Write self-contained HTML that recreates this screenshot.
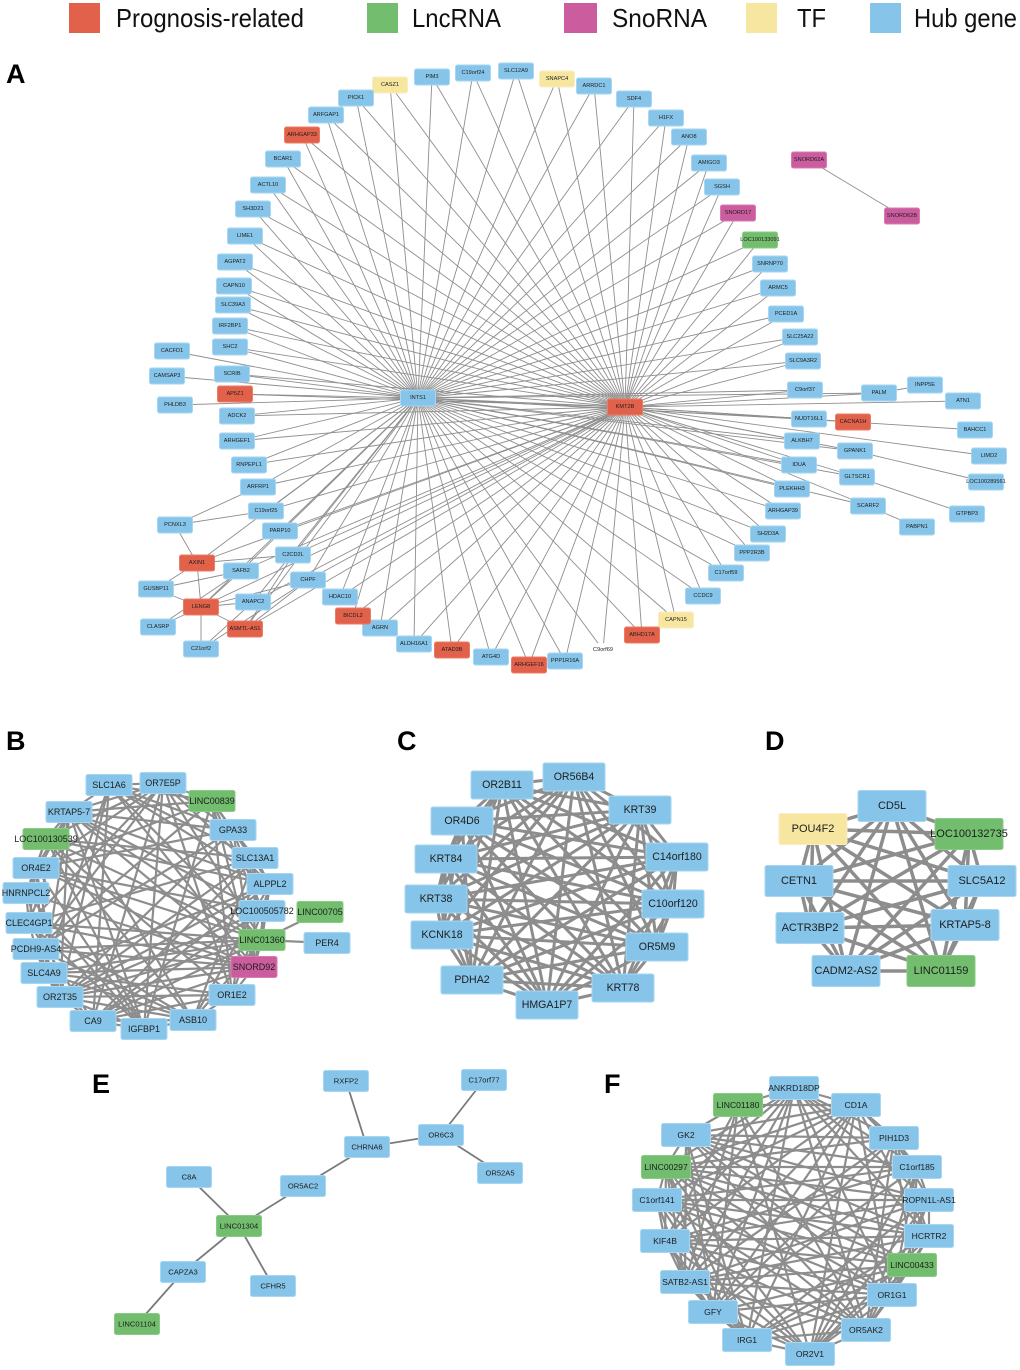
<!DOCTYPE html>
<html><head><meta charset="utf-8">
<style>
html,body{margin:0;padding:0;background:#fff;}
svg{display:block;font-family:"Liberation Sans",Arial,sans-serif;}
text{text-anchor:middle;dominant-baseline:central;fill:#1d1d1d;}
.b{fill:#86C5E9;stroke:#A6D6F1;stroke-width:1}
.r{fill:#E2614A;stroke:#EC7C64;stroke-width:1}
.g{fill:#72BE6E;stroke:#88CB84;stroke-width:1}
.p{fill:#CB5D9F;stroke:#D77BB3;stroke-width:1}
.y{fill:#F6E6A0;stroke:#F9EEC0;stroke-width:1}
.w{fill:#fff;stroke:none}
#A text{font-size:5.6px}
#B text{font-size:9px}
#C text{font-size:10.6px}
#D text{font-size:11px}
#E text{font-size:7.6px}
#F text{font-size:8.6px}
#A .E{stroke:#8e8e8e;stroke-width:0.9}
#B .E{stroke:#8d8d8d;stroke-width:2.2}
#C .E{stroke:#8d8d8d;stroke-width:3}
#D .E{stroke:#8d8d8d;stroke-width:3.5}
#E .E{stroke:#7a7a7a;stroke-width:1.8}
#F .E{stroke:#8d8d8d;stroke-width:2.2}
.lg text{text-anchor:start;dominant-baseline:auto;font-size:26px;fill:#111}
.pl{text-anchor:start !important;dominant-baseline:auto !important;font-weight:bold;font-size:27px;fill:#000 !important}
</style></head>
<body>
<svg width="1020" height="1370" viewBox="0 0 1020 1370" xmlns="http://www.w3.org/2000/svg">
<rect x="0" y="0" width="1020" height="1370" fill="#fff"/>
<!-- legend -->
<g class="lg">
<rect x="69" y="3" width="31" height="30" fill="#E2614A"/>
<text x="116" y="27" textLength="188" lengthAdjust="spacingAndGlyphs">Prognosis-related</text>
<rect x="367" y="3" width="31" height="30" fill="#72BE6E"/>
<text x="412" y="27" textLength="89" lengthAdjust="spacingAndGlyphs">LncRNA</text>
<rect x="564" y="3" width="33" height="30" fill="#CB5D9F"/>
<text x="612" y="27" textLength="95" lengthAdjust="spacingAndGlyphs">SnoRNA</text>
<rect x="746" y="3" width="31" height="30" fill="#F6E6A0"/>
<text x="797" y="27" textLength="29" lengthAdjust="spacingAndGlyphs">TF</text>
<rect x="870" y="3" width="31" height="30" fill="#86C5E9"/>
<text x="914" y="27" textLength="103" lengthAdjust="spacingAndGlyphs">Hub gene</text>
</g>
<text class="pl" x="6" y="83">A</text>
<text class="pl" x="6" y="750">B</text>
<text class="pl" x="397" y="750">C</text>
<text class="pl" x="765" y="750">D</text>
<text class="pl" x="92" y="1093">E</text>
<text class="pl" x="604" y="1093">F</text>

<!-- Panel A -->
<g id="A">
<g class="E"></g>
<g class="rg" transform="translate(390 85)"><rect class="y" x="-17.5" y="-8" width="35" height="16" rx="2"/><text>CASZ1</text></g>
<g class="rg" transform="translate(432 77)"><rect class="b" x="-17.5" y="-8" width="35" height="16" rx="2"/><text>PIM3</text></g>
<g class="rg" transform="translate(473 73)"><rect class="b" x="-17.5" y="-8" width="35" height="16" rx="2"/><text>C19orf24</text></g>
<g class="rg" transform="translate(516 71)"><rect class="b" x="-17.5" y="-8" width="35" height="16" rx="2"/><text>SLC12A9</text></g>
<g class="rg" transform="translate(557 79)"><rect class="y" x="-17.5" y="-8" width="35" height="16" rx="2"/><text>SNAPC4</text></g>
<g class="rg" transform="translate(594 86)"><rect class="b" x="-17.5" y="-8" width="35" height="16" rx="2"/><text>ARRDC1</text></g>
<g class="rg" transform="translate(634 99)"><rect class="b" x="-17.5" y="-8" width="35" height="16" rx="2"/><text>SDF4</text></g>
<g class="rg" transform="translate(666 118)"><rect class="b" x="-17.5" y="-8" width="35" height="16" rx="2"/><text>H1FX</text></g>
<g class="rg" transform="translate(689 137)"><rect class="b" x="-17.5" y="-8" width="35" height="16" rx="2"/><text>ANO8</text></g>
<g class="rg" transform="translate(709 163)"><rect class="b" x="-17.5" y="-8" width="35" height="16" rx="2"/><text>AMIGO3</text></g>
<g class="rg" transform="translate(722 187)"><rect class="b" x="-17.5" y="-8" width="35" height="16" rx="2"/><text>SGSH</text></g>
<g class="rg" transform="translate(738 213)"><rect class="p" x="-17.5" y="-8" width="35" height="16" rx="2"/><text>SNORD17</text></g>
<g class="rg" transform="translate(760 240)"><rect class="g" x="-17.5" y="-8" width="35" height="16" rx="2"/><text>LOC100133091</text></g>
<g class="rg" transform="translate(770 264)"><rect class="b" x="-17.5" y="-8" width="35" height="16" rx="2"/><text>SNRNP70</text></g>
<g class="rg" transform="translate(778 288)"><rect class="b" x="-17.5" y="-8" width="35" height="16" rx="2"/><text>ARMC5</text></g>
<g class="rg" transform="translate(786 314)"><rect class="b" x="-17.5" y="-8" width="35" height="16" rx="2"/><text>PCED1A</text></g>
<g class="rg" transform="translate(800 337)"><rect class="b" x="-17.5" y="-8" width="35" height="16" rx="2"/><text>SLC25A22</text></g>
<g class="rg" transform="translate(803 361)"><rect class="b" x="-17.5" y="-8" width="35" height="16" rx="2"/><text>SLC9A3R2</text></g>
<g class="rg" transform="translate(805 390)"><rect class="b" x="-17.5" y="-8" width="35" height="16" rx="2"/><text>C9orf37</text></g>
<g class="rg" transform="translate(809 419)"><rect class="b" x="-17.5" y="-8" width="35" height="16" rx="2"/><text>NUDT16L1</text></g>
<g class="rg" transform="translate(802 441)"><rect class="b" x="-17.5" y="-8" width="35" height="16" rx="2"/><text>ALKBH7</text></g>
<g class="rg" transform="translate(799 465)"><rect class="b" x="-17.5" y="-8" width="35" height="16" rx="2"/><text>IDUA</text></g>
<g class="rg" transform="translate(792 489)"><rect class="b" x="-17.5" y="-8" width="35" height="16" rx="2"/><text>PLEKHH3</text></g>
<g class="rg" transform="translate(783 511)"><rect class="b" x="-17.5" y="-8" width="35" height="16" rx="2"/><text>ARHGAP39</text></g>
<g class="rg" transform="translate(768 534)"><rect class="b" x="-17.5" y="-8" width="35" height="16" rx="2"/><text>SH2D3A</text></g>
<g class="rg" transform="translate(752 553)"><rect class="b" x="-17.5" y="-8" width="35" height="16" rx="2"/><text>PPP2R3B</text></g>
<g class="rg" transform="translate(726 573)"><rect class="b" x="-17.5" y="-8" width="35" height="16" rx="2"/><text>C17orf59</text></g>
<g class="rg" transform="translate(703 596)"><rect class="b" x="-17.5" y="-8" width="35" height="16" rx="2"/><text>CCDC9</text></g>
<g class="rg" transform="translate(676 620)"><rect class="y" x="-17.5" y="-8" width="35" height="16" rx="2"/><text>CAPN15</text></g>
<g class="rg" transform="translate(642 635)"><rect class="r" x="-17.5" y="-8" width="35" height="16" rx="2"/><text>ABHD17A</text></g>
<g class="rg" transform="translate(603 650)"><rect class="w" x="-17.5" y="-7" width="35" height="14" rx="2"/><text>C9orf69</text></g>
<g class="rg" transform="translate(565 661)"><rect class="b" x="-17.5" y="-8" width="35" height="16" rx="2"/><text>PPP1R16A</text></g>
<g class="rg" transform="translate(529 665)"><rect class="r" x="-17.5" y="-8" width="35" height="16" rx="2"/><text>ARHGEF16</text></g>
<g class="rg" transform="translate(491 657)"><rect class="b" x="-17.5" y="-8" width="35" height="16" rx="2"/><text>ATG4D</text></g>
<g class="rg" transform="translate(452 650)"><rect class="r" x="-17.5" y="-8" width="35" height="16" rx="2"/><text>ATAD3B</text></g>
<g class="rg" transform="translate(414 644)"><rect class="b" x="-17.5" y="-8" width="35" height="16" rx="2"/><text>ALDH16A1</text></g>
<g class="rg" transform="translate(380 628)"><rect class="b" x="-17.5" y="-8" width="35" height="16" rx="2"/><text>AGRN</text></g>
<g class="rg" transform="translate(353 616)"><rect class="r" x="-17.5" y="-8" width="35" height="16" rx="2"/><text>BICDL2</text></g>
<g class="rg" transform="translate(340 597)"><rect class="b" x="-17.5" y="-8" width="35" height="16" rx="2"/><text>HDAC10</text></g>
<g class="rg" transform="translate(308 580)"><rect class="b" x="-17.5" y="-8" width="35" height="16" rx="2"/><text>CHPF</text></g>
<g class="rg" transform="translate(293 555)"><rect class="b" x="-17.5" y="-8" width="35" height="16" rx="2"/><text>C2CD2L</text></g>
<g class="rg" transform="translate(280 531)"><rect class="b" x="-17.5" y="-8" width="35" height="16" rx="2"/><text>PARP10</text></g>
<g class="rg" transform="translate(266 511)"><rect class="b" x="-17.5" y="-8" width="35" height="16" rx="2"/><text>C19orf25</text></g>
<g class="rg" transform="translate(258 487)"><rect class="b" x="-17.5" y="-8" width="35" height="16" rx="2"/><text>ARFRP1</text></g>
<g class="rg" transform="translate(249 465)"><rect class="b" x="-17.5" y="-8" width="35" height="16" rx="2"/><text>RNPEPL1</text></g>
<g class="rg" transform="translate(237 441)"><rect class="b" x="-17.5" y="-8" width="35" height="16" rx="2"/><text>ARHGEF1</text></g>
<g class="rg" transform="translate(237 416)"><rect class="b" x="-17.5" y="-8" width="35" height="16" rx="2"/><text>ADCK2</text></g>
<g class="rg" transform="translate(235 394)"><rect class="r" x="-17.5" y="-8" width="35" height="16" rx="2"/><text>AP5Z1</text></g>
<g class="rg" transform="translate(232 374)"><rect class="b" x="-17.5" y="-8" width="35" height="16" rx="2"/><text>SCRIB</text></g>
<g class="rg" transform="translate(230 347)"><rect class="b" x="-17.5" y="-8" width="35" height="16" rx="2"/><text>SHC2</text></g>
<g class="rg" transform="translate(230 326)"><rect class="b" x="-17.5" y="-8" width="35" height="16" rx="2"/><text>IRF2BP1</text></g>
<g class="rg" transform="translate(233 305)"><rect class="b" x="-17.5" y="-8" width="35" height="16" rx="2"/><text>SLC39A3</text></g>
<g class="rg" transform="translate(234 286)"><rect class="b" x="-17.5" y="-8" width="35" height="16" rx="2"/><text>CAPN10</text></g>
<g class="rg" transform="translate(235 262)"><rect class="b" x="-17.5" y="-8" width="35" height="16" rx="2"/><text>AGPAT2</text></g>
<g class="rg" transform="translate(245 236)"><rect class="b" x="-17.5" y="-8" width="35" height="16" rx="2"/><text>LIME1</text></g>
<g class="rg" transform="translate(253 209)"><rect class="b" x="-17.5" y="-8" width="35" height="16" rx="2"/><text>SH3D21</text></g>
<g class="rg" transform="translate(268 185)"><rect class="b" x="-17.5" y="-8" width="35" height="16" rx="2"/><text>ACTL10</text></g>
<g class="rg" transform="translate(283 159)"><rect class="b" x="-17.5" y="-8" width="35" height="16" rx="2"/><text>BCAR1</text></g>
<g class="rg" transform="translate(302 135)"><rect class="r" x="-17.5" y="-8" width="35" height="16" rx="2"/><text>ARHGAP33</text></g>
<g class="rg" transform="translate(326 115)"><rect class="b" x="-17.5" y="-8" width="35" height="16" rx="2"/><text>ARFGAP1</text></g>
<g class="rg" transform="translate(356 98)"><rect class="b" x="-17.5" y="-8" width="35" height="16" rx="2"/><text>PICK1</text></g>
<g class="rg" transform="translate(241 571)"><rect class="b" x="-17.5" y="-8" width="35" height="16" rx="2"/><text>SAFB2</text></g>
<g class="rg" transform="translate(253 602)"><rect class="b" x="-17.5" y="-8" width="35" height="16" rx="2"/><text>ANAPC2</text></g>
<g class="rg" transform="translate(197 563)"><rect class="r" x="-17.5" y="-8" width="35" height="16" rx="2"/><text>AXIN1</text></g>
<g class="rg" transform="translate(201 607)"><rect class="r" x="-17.5" y="-8" width="35" height="16" rx="2"/><text>LENG8</text></g>
<g class="rg" transform="translate(245 629)"><rect class="r" x="-17.5" y="-8" width="35" height="16" rx="2"/><text>ASMTL-AS1</text></g>
<g class="rg" transform="translate(879 393)"><rect class="b" x="-17.5" y="-8" width="35" height="16" rx="2"/><text>PALM</text></g>
<g class="rg" transform="translate(853 422)"><rect class="r" x="-17.5" y="-8" width="35" height="16" rx="2"/><text>CACNA1H</text></g>
<g class="rg" transform="translate(855 451)"><rect class="b" x="-17.5" y="-8" width="35" height="16" rx="2"/><text>GPANK1</text></g>
<g class="rg" transform="translate(857 477)"><rect class="b" x="-17.5" y="-8" width="35" height="16" rx="2"/><text>GLTSCR1</text></g>
<g class="rg" transform="translate(868 506)"><rect class="b" x="-17.5" y="-8" width="35" height="16" rx="2"/><text>SCARF2</text></g>
<g transform="translate(925 385)"><rect class="b" x="-17.5" y="-8" width="35" height="16" rx="2"/><text>INPP5E</text></g>
<g transform="translate(963 401)"><rect class="b" x="-17.5" y="-8" width="35" height="16" rx="2"/><text>ATN1</text></g>
<g transform="translate(975 430)"><rect class="b" x="-17.5" y="-8" width="35" height="16" rx="2"/><text>BAHCC1</text></g>
<g transform="translate(989 456)"><rect class="b" x="-17.5" y="-8" width="35" height="16" rx="2"/><text>LIMD2</text></g>
<g transform="translate(986 482)"><rect class="b" x="-17.5" y="-8" width="35" height="16" rx="2"/><text>LOC100289561</text></g>
<g transform="translate(967 514)"><rect class="b" x="-17.5" y="-8" width="35" height="16" rx="2"/><text>GTPBP3</text></g>
<g transform="translate(917 527)"><rect class="b" x="-17.5" y="-8" width="35" height="16" rx="2"/><text>PABPN1</text></g>
<g transform="translate(172 351)"><rect class="b" x="-17.5" y="-8" width="35" height="16" rx="2"/><text>CACFD1</text></g>
<g transform="translate(167 376)"><rect class="b" x="-17.5" y="-8" width="35" height="16" rx="2"/><text>CAMSAP3</text></g>
<g transform="translate(175 405)"><rect class="b" x="-17.5" y="-8" width="35" height="16" rx="2"/><text>PHLDB3</text></g>
<g transform="translate(175 525)"><rect class="b" x="-17.5" y="-8" width="35" height="16" rx="2"/><text>PCNXL3</text></g>
<g transform="translate(156 589)"><rect class="b" x="-17.5" y="-8" width="35" height="16" rx="2"/><text>GUSBP11</text></g>
<g transform="translate(158 627)"><rect class="b" x="-17.5" y="-8" width="35" height="16" rx="2"/><text>CLASRP</text></g>
<g transform="translate(201 649)"><rect class="b" x="-17.5" y="-8" width="35" height="16" rx="2"/><text>C21orf2</text></g>
<g transform="translate(809 160)"><rect class="p" x="-17.5" y="-8" width="35" height="16" rx="2"/><text>SNORD62A</text></g>
<g transform="translate(902 216)"><rect class="p" x="-17.5" y="-8" width="35" height="16" rx="2"/><text>SNORD62B</text></g>
<g transform="translate(418 398)"><rect class="b" x="-17.5" y="-8" width="35" height="16" rx="2"/><text>INTS1</text></g>
<g transform="translate(625 407)"><rect class="r" x="-17.5" y="-8" width="35" height="16" rx="2"/><text>KMT2B</text></g>
</g>

<!-- Panel B -->
<g id="B">
<g class="E"></g>
<g class="k" transform="translate(109 785)"><rect class="b" x="-23" y="-10.5" width="46" height="21" rx="2"/><text>SLC1A6</text></g>
<g class="k" transform="translate(163 783)"><rect class="b" x="-23" y="-10.5" width="46" height="21" rx="2"/><text>OR7E5P</text></g>
<g class="k" transform="translate(212 801)"><rect class="g" x="-23" y="-10.5" width="46" height="21" rx="2"/><text>LINC00839</text></g>
<g class="k" transform="translate(233 830)"><rect class="b" x="-23" y="-10.5" width="46" height="21" rx="2"/><text>GPA33</text></g>
<g class="k" transform="translate(255 858)"><rect class="b" x="-23" y="-10.5" width="46" height="21" rx="2"/><text>SLC13A1</text></g>
<g class="k" transform="translate(270 884)"><rect class="b" x="-23" y="-10.5" width="46" height="21" rx="2"/><text>ALPPL2</text></g>
<g class="k" transform="translate(262 911)"><rect class="b" x="-23" y="-10.5" width="46" height="21" rx="2"/><text>LOC100505782</text></g>
<g class="k" transform="translate(262 940)"><rect class="g" x="-23" y="-10.5" width="46" height="21" rx="2"/><text>LINC01360</text></g>
<g class="k" transform="translate(254 967)"><rect class="p" x="-23" y="-10.5" width="46" height="21" rx="2"/><text>SNORD92</text></g>
<g class="k" transform="translate(232 995)"><rect class="b" x="-23" y="-10.5" width="46" height="21" rx="2"/><text>OR1E2</text></g>
<g class="k" transform="translate(193 1020)"><rect class="b" x="-23" y="-10.5" width="46" height="21" rx="2"/><text>ASB10</text></g>
<g class="k" transform="translate(144 1029)"><rect class="b" x="-23" y="-10.5" width="46" height="21" rx="2"/><text>IGFBP1</text></g>
<g class="k" transform="translate(93 1021)"><rect class="b" x="-23" y="-10.5" width="46" height="21" rx="2"/><text>CA9</text></g>
<g class="k" transform="translate(60 997)"><rect class="b" x="-23" y="-10.5" width="46" height="21" rx="2"/><text>OR2T35</text></g>
<g class="k" transform="translate(44 973)"><rect class="b" x="-23" y="-10.5" width="46" height="21" rx="2"/><text>SLC4A9</text></g>
<g class="k" transform="translate(36 949)"><rect class="b" x="-23" y="-10.5" width="46" height="21" rx="2"/><text>PCDH9-AS4</text></g>
<g class="k" transform="translate(29 923)"><rect class="b" x="-23" y="-10.5" width="46" height="21" rx="2"/><text>CLEC4GP1</text></g>
<g class="k" transform="translate(26 893)"><rect class="b" x="-23" y="-10.5" width="46" height="21" rx="2"/><text>HNRNPCL2</text></g>
<g class="k" transform="translate(36 868)"><rect class="b" x="-23" y="-10.5" width="46" height="21" rx="2"/><text>OR4E2</text></g>
<g class="k" transform="translate(46 839)"><rect class="g" x="-23" y="-10.5" width="46" height="21" rx="2"/><text>LOC100130539</text></g>
<g class="k" transform="translate(69 812)"><rect class="b" x="-23" y="-10.5" width="46" height="21" rx="2"/><text>KRTAP5-7</text></g>
<g transform="translate(320 912)"><rect class="g" x="-23" y="-10.5" width="46" height="21" rx="2"/><text>LINC00705</text></g>
<g transform="translate(327 943)"><rect class="b" x="-23" y="-10.5" width="46" height="21" rx="2"/><text>PER4</text></g>
</g>

<!-- Panel C -->
<g id="C">
<g class="E"></g>
<g class="k" transform="translate(502 785)"><rect class="b" x="-31" y="-14" width="62" height="28" rx="2"/><text>OR2B11</text></g>
<g class="k" transform="translate(574 777)"><rect class="b" x="-31" y="-14" width="62" height="28" rx="2"/><text>OR56B4</text></g>
<g class="k" transform="translate(640 810)"><rect class="b" x="-31" y="-14" width="62" height="28" rx="2"/><text>KRT39</text></g>
<g class="k" transform="translate(677 857)"><rect class="b" x="-31" y="-14" width="62" height="28" rx="2"/><text>C14orf180</text></g>
<g class="k" transform="translate(673 904)"><rect class="b" x="-31" y="-14" width="62" height="28" rx="2"/><text>C10orf120</text></g>
<g class="k" transform="translate(657 947)"><rect class="b" x="-31" y="-14" width="62" height="28" rx="2"/><text>OR5M9</text></g>
<g class="k" transform="translate(623 988)"><rect class="b" x="-31" y="-14" width="62" height="28" rx="2"/><text>KRT78</text></g>
<g class="k" transform="translate(547 1005)"><rect class="b" x="-31" y="-14" width="62" height="28" rx="2"/><text>HMGA1P7</text></g>
<g class="k" transform="translate(472 980)"><rect class="b" x="-31" y="-14" width="62" height="28" rx="2"/><text>PDHA2</text></g>
<g class="k" transform="translate(442 935)"><rect class="b" x="-31" y="-14" width="62" height="28" rx="2"/><text>KCNK18</text></g>
<g class="k" transform="translate(436 899)"><rect class="b" x="-31" y="-14" width="62" height="28" rx="2"/><text>KRT38</text></g>
<g class="k" transform="translate(446 859)"><rect class="b" x="-31" y="-14" width="62" height="28" rx="2"/><text>KRT84</text></g>
<g class="k" transform="translate(462 821)"><rect class="b" x="-31" y="-14" width="62" height="28" rx="2"/><text>OR4D6</text></g>
</g>

<!-- Panel D -->
<g id="D">
<g class="E"></g>
<g class="k" transform="translate(892 806)"><rect class="b" x="-34" y="-15.5" width="68" height="31" rx="2"/><text>CD5L</text></g>
<g class="k" transform="translate(969 834)"><rect class="g" x="-34" y="-15.5" width="68" height="31" rx="2"/><text>LOC100132735</text></g>
<g class="k" transform="translate(982 881)"><rect class="b" x="-34" y="-15.5" width="68" height="31" rx="2"/><text>SLC5A12</text></g>
<g class="k" transform="translate(965 925)"><rect class="b" x="-34" y="-15.5" width="68" height="31" rx="2"/><text>KRTAP5-8</text></g>
<g class="k" transform="translate(941 971)"><rect class="g" x="-34" y="-15.5" width="68" height="31" rx="2"/><text>LINC01159</text></g>
<g class="k" transform="translate(846 971)"><rect class="b" x="-34" y="-15.5" width="68" height="31" rx="2"/><text>CADM2-AS2</text></g>
<g class="k" transform="translate(810 928)"><rect class="b" x="-34" y="-15.5" width="68" height="31" rx="2"/><text>ACTR3BP2</text></g>
<g class="k" transform="translate(799 881)"><rect class="b" x="-34" y="-15.5" width="68" height="31" rx="2"/><text>CETN1</text></g>
<g class="k" transform="translate(813 829)"><rect class="y" x="-34" y="-15.5" width="68" height="31" rx="2"/><text>POU4F2</text></g>
</g>

<!-- Panel E -->
<g id="E">
<g class="E"></g>
<g transform="translate(346 1081)"><rect class="b" x="-22.5" y="-10.5" width="45" height="21" rx="2"/><text>RXFP2</text></g>
<g transform="translate(484 1080)"><rect class="b" x="-22.5" y="-10.5" width="45" height="21" rx="2"/><text>C17orf77</text></g>
<g transform="translate(441 1135)"><rect class="b" x="-22.5" y="-10.5" width="45" height="21" rx="2"/><text>OR6C3</text></g>
<g transform="translate(367 1147)"><rect class="b" x="-22.5" y="-10.5" width="45" height="21" rx="2"/><text>CHRNA6</text></g>
<g transform="translate(500 1173)"><rect class="b" x="-22.5" y="-10.5" width="45" height="21" rx="2"/><text>OR52A5</text></g>
<g transform="translate(189 1177)"><rect class="b" x="-22.5" y="-10.5" width="45" height="21" rx="2"/><text>C8A</text></g>
<g transform="translate(303 1186)"><rect class="b" x="-22.5" y="-10.5" width="45" height="21" rx="2"/><text>OR5AC2</text></g>
<g transform="translate(239 1226)"><rect class="g" x="-22.5" y="-10.5" width="45" height="21" rx="2"/><text>LINC01304</text></g>
<g transform="translate(183 1272)"><rect class="b" x="-22.5" y="-10.5" width="45" height="21" rx="2"/><text>CAPZA3</text></g>
<g transform="translate(273 1286)"><rect class="b" x="-22.5" y="-10.5" width="45" height="21" rx="2"/><text>CFHR5</text></g>
<g transform="translate(137 1324)"><rect class="g" x="-22.5" y="-10.5" width="45" height="21" rx="2"/><text>LINC01104</text></g>
</g>

<!-- Panel F -->
<g id="F">
<g class="E"></g>
<g class="k" transform="translate(794 1088)"><rect class="b" x="-24.5" y="-11.5" width="49" height="23" rx="2"/><text>ANKRD18DP</text></g>
<g class="k" transform="translate(856 1105)"><rect class="b" x="-24.5" y="-11.5" width="49" height="23" rx="2"/><text>CD1A</text></g>
<g class="k" transform="translate(894 1138)"><rect class="b" x="-24.5" y="-11.5" width="49" height="23" rx="2"/><text>PIH1D3</text></g>
<g class="k" transform="translate(917 1167)"><rect class="b" x="-24.5" y="-11.5" width="49" height="23" rx="2"/><text>C1orf185</text></g>
<g class="k" transform="translate(929 1200)"><rect class="b" x="-24.5" y="-11.5" width="49" height="23" rx="2"/><text>ROPN1L-AS1</text></g>
<g class="k" transform="translate(929 1236)"><rect class="b" x="-24.5" y="-11.5" width="49" height="23" rx="2"/><text>HCRTR2</text></g>
<g class="k" transform="translate(912 1265)"><rect class="g" x="-24.5" y="-11.5" width="49" height="23" rx="2"/><text>LINC00433</text></g>
<g class="k" transform="translate(892 1295)"><rect class="b" x="-24.5" y="-11.5" width="49" height="23" rx="2"/><text>OR1G1</text></g>
<g class="k" transform="translate(866 1330)"><rect class="b" x="-24.5" y="-11.5" width="49" height="23" rx="2"/><text>OR5AK2</text></g>
<g class="k" transform="translate(810 1354)"><rect class="b" x="-24.5" y="-11.5" width="49" height="23" rx="2"/><text>OR2V1</text></g>
<g class="k" transform="translate(747 1340)"><rect class="b" x="-24.5" y="-11.5" width="49" height="23" rx="2"/><text>IRG1</text></g>
<g class="k" transform="translate(713 1312)"><rect class="b" x="-24.5" y="-11.5" width="49" height="23" rx="2"/><text>GFY</text></g>
<g class="k" transform="translate(685 1282)"><rect class="b" x="-24.5" y="-11.5" width="49" height="23" rx="2"/><text>SATB2-AS1</text></g>
<g class="k" transform="translate(665 1241)"><rect class="b" x="-24.5" y="-11.5" width="49" height="23" rx="2"/><text>KIF4B</text></g>
<g class="k" transform="translate(657 1200)"><rect class="b" x="-24.5" y="-11.5" width="49" height="23" rx="2"/><text>C1orf141</text></g>
<g class="k" transform="translate(666 1167)"><rect class="g" x="-24.5" y="-11.5" width="49" height="23" rx="2"/><text>LINC00297</text></g>
<g class="k" transform="translate(686 1135)"><rect class="b" x="-24.5" y="-11.5" width="49" height="23" rx="2"/><text>GK2</text></g>
<g class="k" transform="translate(738 1105)"><rect class="g" x="-24.5" y="-11.5" width="49" height="23" rx="2"/><text>LINC01180</text></g>
</g>
</svg>
<script>
(function(){
var NS='http://www.w3.org/2000/svg';
function pos(g){var m=g.transform.baseVal.consolidate().matrix;return [m.e,m.f];}
function ln(E,a,b){var l=document.createElementNS(NS,'line');l.setAttribute('x1',a[0]);l.setAttribute('y1',a[1]);l.setAttribute('x2',b[0]);l.setAttribute('y2',b[1]);E.appendChild(l);}
function panel(id){var P=document.getElementById(id);var E=P.querySelector('.E');var m={};var gs=P.querySelectorAll('g[transform]');for(var i=0;i<gs.length;i++){m[gs[i].textContent.trim()]=gs[i];}return {P:P,E:E,m:m};}
function rnd(i,j){var h=Math.sin(i*12.9898+j*78.233)*43758.5453;return h-Math.floor(h);}
var dens={B:0.5,C:1,D:1,F:0.8};
['B','C','D','F'].forEach(function(id){var p=panel(id);var ks=Array.prototype.map.call(p.P.querySelectorAll('g.k'),pos);var n=ks.length;for(var i=0;i<n;i++)for(var j=i+1;j<n;j++){var adj=(j-i===1)||(i===0&&j===n-1);if(adj||rnd(i,j)<dens[id])ln(p.E,ks[i],ks[j]);}});
var pairs={
A:[['INTS1','KMT2B'],['PALM','INPP5E'],['KMT2B','ATN1'],['CACNA1H','BAHCC1'],['KMT2B','LIMD2'],['GPANK1','LOC100289561'],['GLTSCR1','GTPBP3'],['SCARF2','PABPN1'],
['SNORD62A','SNORD62B'],['CACFD1','INTS1'],['CAMSAP3','INTS1'],['PHLDB3','INTS1'],
['PCNXL3','ARFRP1'],['PCNXL3','AXIN1'],['PCNXL3','C19orf25'],['AXIN1','GUSBP11'],['AXIN1','LENG8'],['AXIN1','C2CD2L'],['GUSBP11','LENG8'],['GUSBP11','SAFB2'],
['CLASRP','LENG8'],['CLASRP','SAFB2'],['LENG8','C21orf2'],['LENG8','ANAPC2'],['LENG8','ASMTL-AS1'],['LENG8','SAFB2'],['LENG8','CHPF'],['C21orf2','ANAPC2'],['C21orf2','CHPF'],
['ASMTL-AS1','CHPF'],['ASMTL-AS1','C2CD2L']],
B:[['LINC01360','LINC00705'],['LINC01360','PER4']],
E:[['RXFP2','CHRNA6'],['CHRNA6','OR6C3'],['OR6C3','C17orf77'],['OR6C3','OR52A5'],['CHRNA6','OR5AC2'],['OR5AC2','LINC01304'],['C8A','LINC01304'],['LINC01304','CAPZA3'],['LINC01304','CFHR5'],['CAPZA3','LINC01104']]
};
for(var id in pairs){(function(id){var p=panel(id);pairs[id].forEach(function(e){if(p.m[e[0]]&&p.m[e[1]])ln(p.E,pos(p.m[e[0]]),pos(p.m[e[1]]));});})(id);}
var p=panel('A');var h1=pos(p.m['INTS1']),h2=pos(p.m['KMT2B']);
var rg=p.P.querySelectorAll('g.rg');for(var i=0;i<rg.length;i++){var q=pos(rg[i]);ln(p.E,q,h1);ln(p.E,q,h2);}
})();
</script>
</body></html>
